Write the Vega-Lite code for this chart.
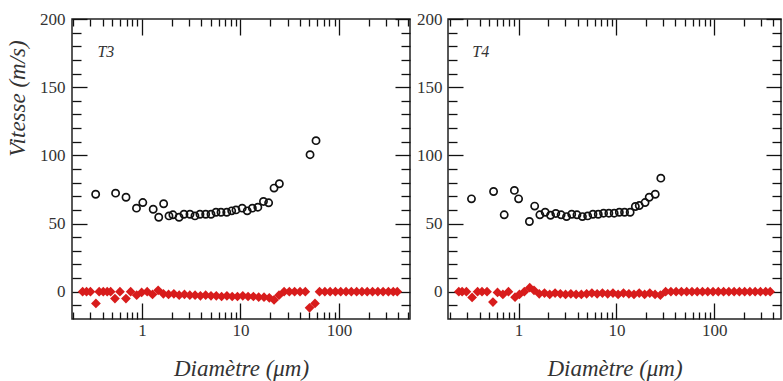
{
  "$schema": "https://vega.github.io/schema/vega-lite/v6.json",
  "background": "white",
  "padding": {"left": 5, "top": 9, "right": 0, "bottom": 0},
  "bounds": "flush",
  "spacing": 38,
  "config": {
    "view": {"stroke": "#222", "strokeWidth": 1.5},
    "axis": {
      "domain": false,
      "grid": false,
      "zindex": 1,
      "tickColor": "#111",
      "tickWidth": 1.3,
      "labelFont": "Liberation Serif",
      "labelFontSize": 17,
      "labelColor": "#333",
      "labelOverlap": false,
      "titleFont": "Liberation Serif",
      "titleFontSize": 23,
      "titleFontStyle": "italic",
      "titleFontWeight": "normal",
      "titleColor": "#333"
    }
  },
  "datasets": {
    "t3_circles": [
      {"d": 0.339, "v": 71.5}, {"d": 0.54, "v": 72.3}, {"d": 0.689, "v": 69.3}, {"d": 0.88, "v": 61.3},
      {"d": 1.02, "v": 65.4}, {"d": 1.3, "v": 60.5}, {"d": 1.48, "v": 54.6}, {"d": 1.66, "v": 64.5},
      {"d": 1.88, "v": 55.6}, {"d": 2.06, "v": 56.4}, {"d": 2.38, "v": 54.6}, {"d": 2.67, "v": 56.8},
      {"d": 3.07, "v": 56.8}, {"d": 3.45, "v": 55.6}, {"d": 3.88, "v": 56.8}, {"d": 4.43, "v": 56.8},
      {"d": 5.02, "v": 56.8}, {"d": 5.64, "v": 58.3}, {"d": 6.34, "v": 58.3}, {"d": 7.25, "v": 58.3},
      {"d": 8.14, "v": 59.3}, {"d": 9.0, "v": 60}, {"d": 10.4, "v": 61.3}, {"d": 11.7, "v": 59.3},
      {"d": 13.2, "v": 61.3}, {"d": 15.0, "v": 62}, {"d": 17.1, "v": 66.2}, {"d": 19.3, "v": 65.2},
      {"d": 21.9, "v": 76}, {"d": 24.8, "v": 79.2}, {"d": 50.8, "v": 100.5}, {"d": 58.4, "v": 110.8}
    ],
    "t3_diamonds": [
      {"d": 0.25, "v": 0}, {"d": 0.274, "v": 0}, {"d": 0.3, "v": 0}, {"d": 0.341, "v": -8.6},
      {"d": 0.368, "v": 0}, {"d": 0.405, "v": 0}, {"d": 0.444, "v": 0}, {"d": 0.481, "v": 0},
      {"d": 0.532, "v": -5}, {"d": 0.598, "v": 0}, {"d": 0.688, "v": -5}, {"d": 0.768, "v": 0},
      {"d": 0.884, "v": -2.5}, {"d": 0.993, "v": -0.5}, {"d": 1.13, "v": 0}, {"d": 1.28, "v": -2},
      {"d": 1.46, "v": 1}, {"d": 1.65, "v": -1.5}, {"d": 1.862, "v": -2}, {"d": 2.108, "v": -1.5},
      {"d": 2.387, "v": -2.5}, {"d": 2.7, "v": -2}, {"d": 3.06, "v": -2.5}, {"d": 3.46, "v": -2.5},
      {"d": 3.92, "v": -3}, {"d": 4.43, "v": -2.5}, {"d": 5.02, "v": -3}, {"d": 5.68, "v": -3},
      {"d": 6.43, "v": -3.5}, {"d": 7.28, "v": -3}, {"d": 8.24, "v": -3.5}, {"d": 9.32, "v": -3.5},
      {"d": 10.55, "v": -3}, {"d": 11.94, "v": -3.5}, {"d": 13.52, "v": -3.5}, {"d": 15.3, "v": -4},
      {"d": 17.33, "v": -4}, {"d": 19.6, "v": -4.5}, {"d": 21.9, "v": -6}, {"d": 24.6, "v": -2.5},
      {"d": 27.7, "v": 0}, {"d": 31.3, "v": 0}, {"d": 35.4, "v": 0}, {"d": 40.2, "v": 0},
      {"d": 45.5, "v": 0}, {"d": 50.2, "v": -11.8}, {"d": 57.0, "v": -8.6}, {"d": 63.4, "v": 0},
      {"d": 71.8, "v": 0}, {"d": 81.2, "v": 0}, {"d": 91.9, "v": 0}, {"d": 104, "v": 0},
      {"d": 117.8, "v": 0}, {"d": 133.3, "v": 0}, {"d": 150.9, "v": 0}, {"d": 170.8, "v": 0},
      {"d": 193.3, "v": 0}, {"d": 218.8, "v": 0}, {"d": 247.7, "v": 0}, {"d": 280, "v": 0},
      {"d": 317, "v": 0}, {"d": 355, "v": 0}, {"d": 390, "v": 0}
    ],
    "t4_circles": [
      {"d": 0.33, "v": 68.1}, {"d": 0.555, "v": 73.5}, {"d": 0.713, "v": 56.4}, {"d": 0.906, "v": 74.3},
      {"d": 1.0, "v": 68.1}, {"d": 1.29, "v": 51.5}, {"d": 1.46, "v": 62.8}, {"d": 1.65, "v": 56.4},
      {"d": 1.87, "v": 58.3}, {"d": 2.12, "v": 56.1}, {"d": 2.4, "v": 57.4}, {"d": 2.72, "v": 56.4},
      {"d": 3.09, "v": 55.1}, {"d": 3.49, "v": 56.8}, {"d": 3.95, "v": 56.4}, {"d": 4.49, "v": 55.1},
      {"d": 5.08, "v": 55.6}, {"d": 5.75, "v": 56.8}, {"d": 6.52, "v": 56.8}, {"d": 7.38, "v": 57.6},
      {"d": 8.36, "v": 57.6}, {"d": 9.48, "v": 57.6}, {"d": 10.7, "v": 58.3}, {"d": 12.1, "v": 58.3},
      {"d": 13.8, "v": 58.3}, {"d": 15.6, "v": 62.5}, {"d": 17.1, "v": 63.2}, {"d": 19.6, "v": 65.4},
      {"d": 21.6, "v": 69.3}, {"d": 24.9, "v": 71.5}, {"d": 28.4, "v": 83.3}
    ],
    "t4_diamonds": [
      {"d": 0.245, "v": 0}, {"d": 0.265, "v": 0}, {"d": 0.293, "v": 0}, {"d": 0.335, "v": -4.2},
      {"d": 0.381, "v": 0}, {"d": 0.423, "v": 0}, {"d": 0.476, "v": 0}, {"d": 0.547, "v": -7.6},
      {"d": 0.609, "v": -0.5}, {"d": 0.691, "v": -2}, {"d": 0.788, "v": 0}, {"d": 0.92, "v": -4},
      {"d": 1.02, "v": -2}, {"d": 1.145, "v": 0}, {"d": 1.3, "v": 3}, {"d": 1.437, "v": 1},
      {"d": 1.626, "v": -1.5}, {"d": 1.84, "v": -1}, {"d": 2.08, "v": -2}, {"d": 2.36, "v": -1},
      {"d": 2.67, "v": -1.5}, {"d": 3.02, "v": -2}, {"d": 3.42, "v": -1.5}, {"d": 3.87, "v": -2},
      {"d": 4.38, "v": -2}, {"d": 4.96, "v": -1.5}, {"d": 5.61, "v": -1}, {"d": 6.35, "v": -1.5},
      {"d": 7.19, "v": -1}, {"d": 8.14, "v": -1.5}, {"d": 9.21, "v": -1}, {"d": 10.4, "v": -2},
      {"d": 11.8, "v": -1}, {"d": 13.4, "v": -1.5}, {"d": 15.1, "v": -2}, {"d": 17.1, "v": -1},
      {"d": 19.4, "v": -2}, {"d": 21.9, "v": -1}, {"d": 24.8, "v": -2}, {"d": 28.1, "v": -2.5},
      {"d": 31.8, "v": 0}, {"d": 36.0, "v": 0}, {"d": 40.7, "v": 0}, {"d": 46.1, "v": 0},
      {"d": 52.2, "v": 0}, {"d": 59.1, "v": 0}, {"d": 66.9, "v": 0}, {"d": 75.7, "v": 0},
      {"d": 85.7, "v": 0}, {"d": 97.0, "v": 0}, {"d": 109.8, "v": 0}, {"d": 124.3, "v": 0},
      {"d": 140.7, "v": 0}, {"d": 159.3, "v": 0}, {"d": 180.3, "v": 0}, {"d": 204.1, "v": 0},
      {"d": 230.9, "v": 0}, {"d": 261.4, "v": 0}, {"d": 295.9, "v": 0}, {"d": 334.9, "v": 0},
      {"d": 372, "v": 0}
    ],
    "t3_label": [{"d": 0.43, "v": 176, "label": "T3"}],
    "t4_label": [{"d": 0.41, "v": 176, "label": "T4"}]
  },
  "hconcat": [
    {
      "width": 338,
      "height": 300,
      "resolve": {"axis": {"x": "independent", "y": "independent"}},
      "layer": [
        {
          "data": {"name": "t3_circles"},
          "mark": {"type": "point", "shape": "circle", "filled": false, "stroke": "#111", "strokeWidth": 1.7, "size": 52, "opacity": 1},
          "encoding": {
            "x": {"field": "d", "type": "quantitative", "scale": {"type": "log", "domain": [0.195, 525], "nice": false},
              "axis": {"orient": "bottom", "title": "Diamètre (μm)", "titlePadding": 19,
                "values": [1, 10, 100], "offset": -16, "tickSize": 16, "labelPadding": 3, "format": "d"}},
            "y": {"field": "v", "type": "quantitative", "scale": {"domain": [-20, 200], "nice": false},
              "axis": {"orient": "left", "title": "Vitesse (m/s)", "titlePadding": 10, "titleY": 79,
                "values": [0, 50, 100, 150, 200], "offset": -15, "tickSize": 15, "labelPadding": 7, "format": "d"}}
          }
        },
        {
          "data": {"name": "t3_diamonds"},
          "transform": [{"filter": "datum.v === 0"}],
          "mark": {"type": "point", "shape": "diamond", "filled": true, "color": "#d81c1c", "size": 95, "opacity": 1},
          "encoding": {
            "x": {"field": "d", "type": "quantitative", "scale": {"type": "log", "domain": [0.195, 525], "nice": false},
              "axis": {"orient": "bottom", "title": null, "labels": false, "offset": -7, "tickSize": 7,
                "values": [0.2,0.3,0.4,0.5,0.6,0.7,0.8,0.9,2,3,4,5,6,7,8,9,20,30,40,50,60,70,80,90,200,300,400,500]}},
            "y": {"field": "v", "type": "quantitative", "scale": {"domain": [-20, 200], "nice": false},
              "axis": {"orient": "left", "title": null, "labels": false, "offset": -9, "tickSize": 9,
                "values": [-10,10,20,30,40,60,70,80,90,110,120,130,140,160,170,180,190]}}
          }
        },
        {
          "data": {"name": "t3_diamonds"},
          "transform": [{"filter": "datum.v !== 0"}],
          "mark": {"type": "point", "shape": "diamond", "filled": true, "color": "#d81c1c", "size": 95, "opacity": 1},
          "encoding": {
            "x": {"field": "d", "type": "quantitative", "scale": {"type": "log", "domain": [0.195, 525], "nice": false},
              "axis": {"orient": "top", "title": null, "labels": false, "offset": -7, "tickSize": 7,
                "values": [0.2,0.3,0.4,0.5,0.6,0.7,0.8,0.9,2,3,4,5,6,7,8,9,20,30,40,50,60,70,80,90,200,300,400,500]}},
            "y": {"field": "v", "type": "quantitative", "scale": {"domain": [-20, 200], "nice": false},
              "axis": {"orient": "right", "title": null, "labels": false, "offset": -9, "tickSize": 9,
                "values": [-10,10,20,30,40,60,70,80,90,110,120,130,140,160,170,180,190]}}
          }
        },
        {
          "data": {"name": "t3_label"},
          "mark": {"type": "text", "font": "Liberation Serif", "fontStyle": "italic", "fontSize": 16, "color": "#333", "align": "center", "baseline": "middle"},
          "encoding": {
            "x": {"field": "d", "type": "quantitative", "scale": {"type": "log", "domain": [0.195, 525], "nice": false},
              "axis": {"orient": "top", "title": null, "labels": false, "values": [1, 10, 100], "offset": -16, "tickSize": 16}},
            "y": {"field": "v", "type": "quantitative", "scale": {"domain": [-20, 200], "nice": false},
              "axis": {"orient": "right", "title": null, "labels": false, "values": [0, 50, 100, 150, 200], "offset": -15, "tickSize": 15}},
            "text": {"field": "label"}
          }
        }
      ]
    },
    {
      "width": 333,
      "height": 300,
      "resolve": {"axis": {"x": "independent", "y": "independent"}},
      "layer": [
        {
          "data": {"name": "t4_circles"},
          "mark": {"type": "point", "shape": "circle", "filled": false, "stroke": "#111", "strokeWidth": 1.7, "size": 52, "opacity": 1},
          "encoding": {
            "x": {"field": "d", "type": "quantitative", "scale": {"type": "log", "domain": [0.19, 480], "nice": false},
              "axis": {"orient": "bottom", "title": "Diamètre (μm)", "titlePadding": 19,
                "values": [1, 10, 100], "offset": -16, "tickSize": 16, "labelPadding": 3, "format": "d"}},
            "y": {"field": "v", "type": "quantitative", "scale": {"domain": [-20, 200], "nice": false},
              "axis": {"orient": "left", "title": null,
                "values": [0, 50, 100, 150, 200], "offset": -15, "tickSize": 15, "labelPadding": 6, "format": "d"}}
          }
        },
        {
          "data": {"name": "t4_diamonds"},
          "transform": [{"filter": "datum.v === 0"}],
          "mark": {"type": "point", "shape": "diamond", "filled": true, "color": "#d81c1c", "size": 95, "opacity": 1},
          "encoding": {
            "x": {"field": "d", "type": "quantitative", "scale": {"type": "log", "domain": [0.19, 480], "nice": false},
              "axis": {"orient": "bottom", "title": null, "labels": false, "offset": -7, "tickSize": 7,
                "values": [0.2,0.3,0.4,0.5,0.6,0.7,0.8,0.9,2,3,4,5,6,7,8,9,20,30,40,50,60,70,80,90,200,300,400]}},
            "y": {"field": "v", "type": "quantitative", "scale": {"domain": [-20, 200], "nice": false},
              "axis": {"orient": "left", "title": null, "labels": false, "offset": -9, "tickSize": 9,
                "values": [-10,10,20,30,40,60,70,80,90,110,120,130,140,160,170,180,190]}}
          }
        },
        {
          "data": {"name": "t4_diamonds"},
          "transform": [{"filter": "datum.v !== 0"}],
          "mark": {"type": "point", "shape": "diamond", "filled": true, "color": "#d81c1c", "size": 95, "opacity": 1},
          "encoding": {
            "x": {"field": "d", "type": "quantitative", "scale": {"type": "log", "domain": [0.19, 480], "nice": false},
              "axis": {"orient": "top", "title": null, "labels": false, "offset": -7, "tickSize": 7,
                "values": [0.2,0.3,0.4,0.5,0.6,0.7,0.8,0.9,2,3,4,5,6,7,8,9,20,30,40,50,60,70,80,90,200,300,400]}},
            "y": {"field": "v", "type": "quantitative", "scale": {"domain": [-20, 200], "nice": false},
              "axis": {"orient": "right", "title": null, "labels": false, "offset": -9, "tickSize": 9,
                "values": [-10,10,20,30,40,60,70,80,90,110,120,130,140,160,170,180,190]}}
          }
        },
        {
          "data": {"name": "t4_label"},
          "mark": {"type": "text", "font": "Liberation Serif", "fontStyle": "italic", "fontSize": 16, "color": "#333", "align": "center", "baseline": "middle"},
          "encoding": {
            "x": {"field": "d", "type": "quantitative", "scale": {"type": "log", "domain": [0.19, 480], "nice": false},
              "axis": {"orient": "top", "title": null, "labels": false, "values": [1, 10, 100], "offset": -16, "tickSize": 16}},
            "y": {"field": "v", "type": "quantitative", "scale": {"domain": [-20, 200], "nice": false},
              "axis": {"orient": "right", "title": null, "labels": false, "values": [0, 50, 100, 150, 200], "offset": -15, "tickSize": 15}},
            "text": {"field": "label"}
          }
        }
      ]
    }
  ]
}
